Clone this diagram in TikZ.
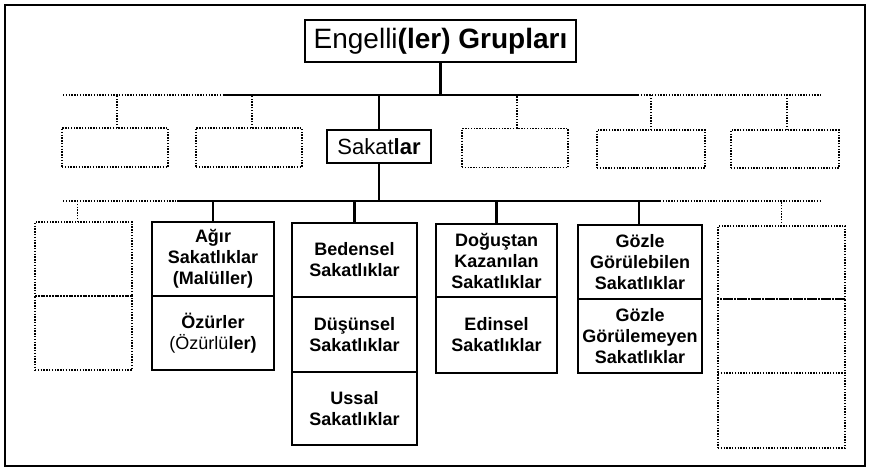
\documentclass[tikz,border=0pt]{standalone}
\usepackage{fontspec}
\setmainfont{Liberation Sans}
\begin{document}
\begin{tikzpicture}[x=1pt,y=-1pt,
  solidline/.style={line width=2.6pt},
  dotline/.style={line width=1.7pt,dash pattern=on 1.4pt off 1.4pt},
  box/.style={draw,inner sep=0pt,outer sep=0pt,align=center},
  cell/.style={box,line width=2.8pt,text width=#1,minimum width=#1,
    font=\fontsize{18}{21}\selectfont\bfseries},
  emptybox/.style={draw,dotline,inner sep=0pt,outer sep=0pt}
]
\useasboundingbox (0,0) rectangle (869,472);
\draw[line width=2.4pt] (5,5) rectangle (865,466);

% top level
\node[box,line width=2pt,minimum width=271pt,minimum height=42pt,
  font=\fontsize{28}{30}\selectfont] (top) at (440.5,41) {Engelli\textbf{(ler) Grupları}};

\coordinate (u1) at (63,95);
\coordinate (u2) at (223,95);
\coordinate (u3) at (638,95);
\coordinate (u4) at (822,95);
\draw[solidline] (u2) -- (u3);
\draw[dotline] (u1) -- (u2);
\draw[dotline] (u3) -- (u4);
\draw[solidline] (top.south) -- (top.south |- u2);

% second row
\node[emptybox,minimum width=106pt,minimum height=39pt] (b1) at (115,147.5) {};
\node[emptybox,minimum width=106pt,minimum height=39pt] (b2) at (249,147.5) {};
\node[box,line width=2.8pt,minimum width=104pt,minimum height=33pt,
  font=\fontsize{22}{26}\selectfont] (sak) at (379,146.5) {Sakat\textbf{lar}};
\node[emptybox,minimum width=106pt,minimum height=39pt] (b4) at (515,148) {};
\node[emptybox,minimum width=108pt,minimum height=38pt] (b5) at (651,149) {};
\node[emptybox,minimum width=108pt,minimum height=38pt] (b6) at (785,149) {};

\draw[solidline] (sak.north) -- (sak.north |- u2);
\draw[dotline] ([xshift=2pt]b1.north) -- ([xshift=2pt]b1.north |- u1);
\draw[dotline] ([xshift=3pt]b2.north) -- ([xshift=3pt]b2.north |- u1);
\draw[dotline] ([xshift=2pt]b4.north) -- ([xshift=2pt]b4.north |- u1);
\draw[dotline] (b5.north) -- (b5.north |- u1);
\draw[dotline] ([xshift=2pt]b6.north) -- ([xshift=2pt]b6.north |- u1);

% lower horizontal
\coordinate (l1) at (63,201);
\coordinate (l2) at (177,201);
\coordinate (l3) at (660,201);
\coordinate (l4) at (822,201);
\draw[solidline] (l2) -- (l3);
\draw[dotline] (l1) -- (l2);
\draw[dotline] (l3) -- (l4);
\draw[solidline] (sak.south) -- (sak.south |- l2);

% left empty column
\node[emptybox,minimum width=97pt,minimum height=74pt] (la) at (83.5,259) {};
\node[emptybox,minimum width=97pt,minimum height=74pt] (lb) at (83.5,333) {};
\draw[dotline] ([xshift=-6pt]la.north) -- ([xshift=-6pt]la.north |- l1);

% Agir
\node[cell=122pt,minimum height=74pt] (a1) at (213,259) {Ağır\\Sakatlıklar\\(Malüller)};
\node[cell=122pt,minimum height=74pt] (a2) at (213,333) {Özürler\\{\mdseries(Özürlü}ler)};
\draw[solidline] (a1.north) -- (a1.north |- l2);

% Bedensel
\node[cell=125pt,minimum height=74pt] (c1) at (354.5,260) {Bedensel\\Sakatlıklar};
\node[cell=125pt,minimum height=75pt] (c2) at (354.5,334.5) {Düşünsel\\Sakatlıklar};
\node[cell=125pt,minimum height=73pt] (c3) at (354.5,408.5) {Ussal\\Sakatlıklar};
\draw[solidline] (c1.north) -- (c1.north |- l2);

% Dogustan
\node[cell=121pt,minimum height=73pt] (d1) at (496.5,260.5) {Doğuştan\\Kazanılan\\Sakatlıklar};
\node[cell=121pt,minimum height=76pt] (d2) at (496.5,335) {Edinsel\\Sakatlıklar};
\draw[solidline] (d1.north) -- (d1.north |- l2);

% Gozle
\node[cell=124pt,minimum height=74pt] (g1) at (640,262) {Gözle\\Görülebilen\\Sakatlıklar};
\node[cell=124pt,minimum height=74pt] (g2) at (640,336) {Gözle\\Görülemeyen\\Sakatlıklar};
\draw[solidline] ([xshift=-1pt]g1.north) -- ([xshift=-1pt]g1.north |- l2);

% right empty column
\node[emptybox,minimum width=127pt,minimum height=73pt] (ra) at (781.5,262.5) {};
\node[emptybox,minimum width=127pt,minimum height=74pt] (rb) at (781.5,336) {};
\node[emptybox,minimum width=127pt,minimum height=75pt] (rc) at (781.5,410.5) {};
\draw[dotline] (ra.north) -- (ra.north |- l4);
\end{tikzpicture}
\end{document}
